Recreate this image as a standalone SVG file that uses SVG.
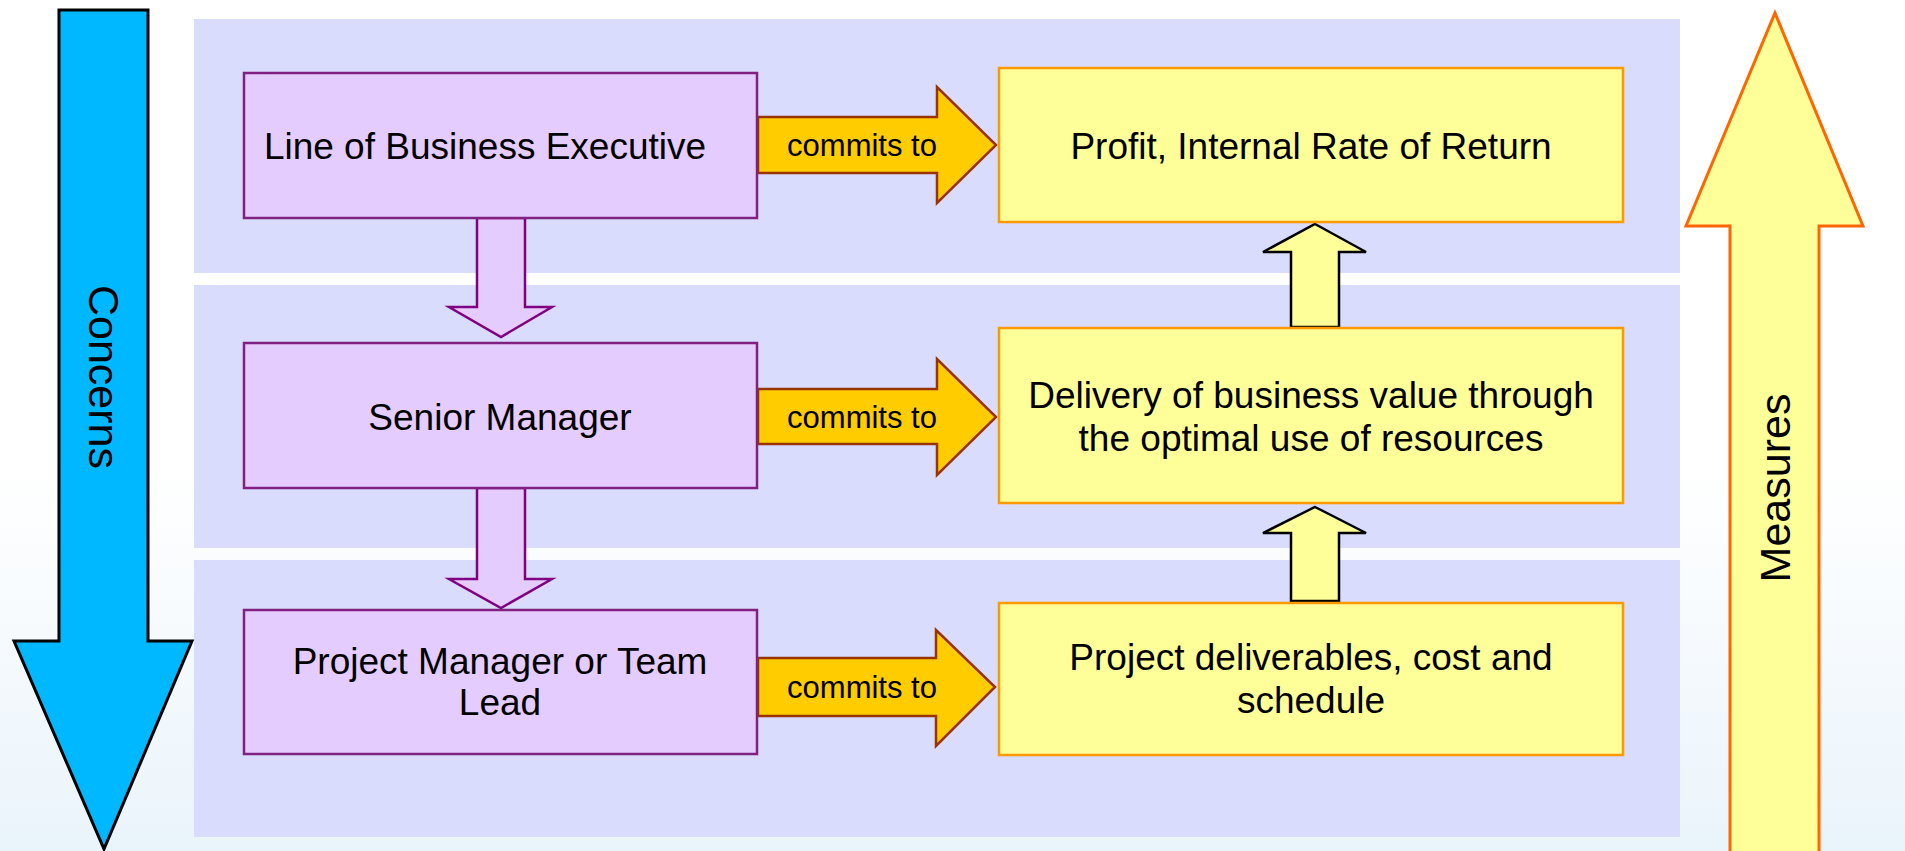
<svg xmlns="http://www.w3.org/2000/svg" width="1905" height="851" viewBox="0 0 1905 851">
  <defs>
    <linearGradient id="bg" x1="0" y1="0" x2="0" y2="1">
      <stop offset="0" stop-color="#ffffff"/>
      <stop offset="0.55" stop-color="#ffffff"/>
      <stop offset="1" stop-color="#eaf4fb"/>
    </linearGradient>
  </defs>
  <style>
    .band { fill: #d9dcfd; }
    .role { fill: #e4ccff; stroke: #802080; stroke-width: 2.5; }
    .goal { fill: #ffff99; stroke: #ff9900; stroke-width: 2.5; }
    .down { fill: #e4ccff; stroke: #800080; stroke-width: 2.5; }
    .up { fill: #ffff99; stroke: #000000; stroke-width: 2.5; }
    .commit { fill: #ffcc00; stroke: #993300; stroke-width: 2.5; }
    .label { font-family: "Liberation Sans", Arial, sans-serif; font-size: 37px; fill: #000000; text-anchor: middle; }
    .ctext { font-family: "Liberation Sans", Arial, sans-serif; font-size: 31px; fill: #000000; text-anchor: middle; }
    .side { font-family: "Liberation Sans", Arial, sans-serif; font-size: 43px; fill: #000000; text-anchor: middle; }
  </style>

  <rect x="0" y="0" width="1905" height="851" fill="url(#bg)"/>

  <!-- horizontal bands -->
  <g id="bands">
    <rect class="band" x="194" y="19" width="1486" height="254"/>
    <rect class="band" x="194" y="285" width="1486" height="263"/>
    <rect class="band" x="194" y="560" width="1486" height="277"/>
  </g>

  <!-- Concerns arrow -->
  <g id="concerns">
    <polygon points="59,10 148,10 148,641 192,641 104,849 14,641 59,641" fill="#00b8ff" stroke="#000000" stroke-width="3"/>
    <text class="side" transform="translate(104,377) rotate(90)" dy="15">Concerns</text>
  </g>

  <!-- Measures arrow -->
  <g id="measures">
    <polygon points="1775,13 1863,226 1819,226 1819,860 1730,860 1730,226 1686,226" fill="#ffff99" stroke="#ff6600" stroke-width="3"/>
    <text class="side" transform="translate(1775,488) rotate(-90)" dy="15">Measures</text>
  </g>

  <!-- connectors -->
  <g id="connectors">
    <polygon class="down" points="477,218 525,218 525,307 552,307 501,337 449,307 477,307"/>
    <polygon class="down" points="477,488 525,488 525,579 552,579 501,608 449,579 477,579"/>
    <polygon class="up" points="1315,224 1366,252 1339,252 1339,327 1291,327 1291,252 1263,252"/>
    <polygon class="up" points="1315,507 1366,533 1339,533 1339,601 1291,601 1291,533 1263,533"/>
    <g id="commit-1">
      <polygon class="commit" points="758,117 937,117 937,87 996,145 937,203 937,173 758,173"/>
      <text class="ctext" x="862" y="156">commits to</text>
    </g>
    <g id="commit-2">
      <polygon class="commit" points="758,389 937,389 937,359 996,417 937,475 937,444 758,444"/>
      <text class="ctext" x="862" y="428">commits to</text>
    </g>
    <g id="commit-3">
      <polygon class="commit" points="758,658 936,658 936,630 995,687 936,746 936,716 758,716"/>
      <text class="ctext" x="862" y="698">commits to</text>
    </g>
  </g>

  <!-- roles -->
  <g id="line-of-business-executive">
    <rect class="role" x="244" y="73" width="513" height="145"/>
    <text class="label" x="485" y="159">Line of Business Executive</text>
  </g>
  <g id="senior-manager">
    <rect class="role" x="244" y="343" width="513" height="145"/>
    <text class="label" x="500" y="430">Senior Manager</text>
  </g>
  <g id="project-manager">
    <rect class="role" x="244" y="610" width="513" height="144"/>
    <text class="label" x="500" y="674">Project Manager or Team</text>
    <text class="label" x="500" y="715">Lead</text>
  </g>

  <!-- commitments -->
  <g id="profit">
    <rect class="goal" x="999" y="68" width="624" height="154"/>
    <text class="label" x="1311" y="159">Profit, Internal Rate of Return</text>
  </g>
  <g id="business-value">
    <rect class="goal" x="999" y="328" width="624" height="175"/>
    <text class="label" x="1311" y="408">Delivery of business value through</text>
    <text class="label" x="1311" y="451">the optimal use of resources</text>
  </g>
  <g id="project-deliverables">
    <rect class="goal" x="999" y="603" width="624" height="152"/>
    <text class="label" x="1311" y="670">Project deliverables, cost and</text>
    <text class="label" x="1311" y="713">schedule</text>
  </g>
</svg>
